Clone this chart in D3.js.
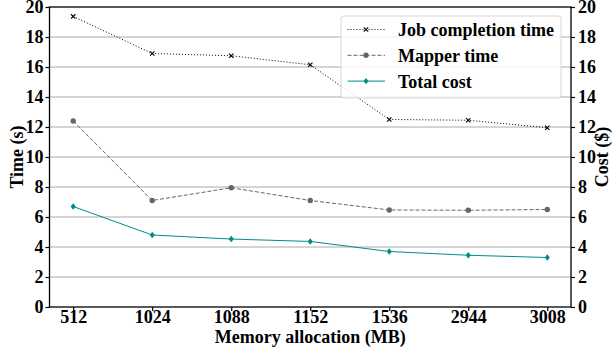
<!DOCTYPE html>
<html>
<head>
<meta charset="utf-8">
<script src="https://cdn.jsdelivr.net/npm/d3@7"></script>
<style>
  html, body { margin: 0; padding: 0; background: #fff; }
  svg { display: block; }
  text { font-family: "Liberation Serif", "Times New Roman", serif; font-weight: bold; }
</style>
</head>
<body>
<svg id="chart" width="612" height="349"></svg>
<script>
// Memory allocation settings (MB)
const categories = ["512", "1024", "1088", "1152", "1536", "2944", "3008"];
// Job completion time (s)
const jobTime = [19.37, 16.9, 16.75, 16.15, 12.5, 12.45, 11.95];
// Mapper time (s)
const mapperTime = [12.4, 7.1, 7.95, 7.1, 6.47, 6.45, 6.5];
// Total cost ($)
const totalCost = [6.7, 4.8, 4.53, 4.37, 3.7, 3.45, 3.3];
// Tick values shared by both vertical axes
const yTicks = [0, 2, 4, 6, 8, 10, 12, 14, 16, 18, 20];

const svg = d3.select("#chart");
const margin = { left: 49.5, right: 41, top: 7, bottom: 42 };
const W = 612, H = 349;
const x0 = margin.left, x1 = W - margin.right;
const y0 = H - margin.bottom, y1 = margin.top;

// Categorical positions with 5% margins on both ends
const xIdx = d3.scaleLinear().domain([-0.3, categories.length - 1 + 0.3]).range([x0, x1]);
const xPos = i => xIdx(i);
const yLeft = d3.scaleLinear().domain([0, 20]).range([y0, y1]);
const yRight = d3.scaleLinear().domain([0, 20]).range([y0, y1]);

// Horizontal grid
svg.append("g")
  .selectAll("line")
  .data(yTicks.slice(1, -1))
  .join("line")
  .attr("x1", x0).attr("x2", x1)
  .attr("y1", d => yLeft(d)).attr("y2", d => yLeft(d))
  .attr("stroke", "#aaaaaa").attr("stroke-width", 1);

// Series
const series = [
  { name: "Job completion time", values: jobTime, scale: yLeft, color: "#000", dash: "1,2", marker: "x" },
  { name: "Mapper time", values: mapperTime, scale: yLeft, color: "#666", dash: "4,2", marker: "circle" },
  { name: "Total cost", values: totalCost, scale: yRight, color: "#008b8b", dash: null, marker: "diamond" }
];

function drawMarker(g, type, cx, cy, color) {
  if (type === "x") {
    const s = 2.2;
    g.append("path")
      .attr("d", `M${cx - s},${cy - s}L${cx + s},${cy + s}M${cx - s},${cy + s}L${cx + s},${cy - s}`)
      .attr("stroke", color).attr("stroke-width", 1.1).attr("fill", "none");
  } else if (type === "circle") {
    g.append("circle").attr("cx", cx).attr("cy", cy).attr("r", 2.7).attr("fill", color);
  } else {
    const s = 3.2;
    g.append("path")
      .attr("d", `M${cx},${cy - s}L${cx + s * 0.8},${cy}L${cx},${cy + s}L${cx - s * 0.8},${cy}Z`)
      .attr("fill", color);
  }
}

series.forEach(s => {
  const g = svg.append("g");
  const line = d3.line().x((d, i) => xPos(i)).y(d => s.scale(d));
  g.append("path")
    .datum(s.values)
    .attr("d", line)
    .attr("fill", "none")
    .attr("stroke", s.color)
    .attr("stroke-width", 1)
    .attr("stroke-dasharray", s.dash);
  s.values.forEach((v, i) => drawMarker(g, s.marker, xPos(i), s.scale(v), s.color));
});

// Frame
svg.append("rect")
  .attr("x", x0).attr("y", y1)
  .attr("width", x1 - x0).attr("height", y0 - y1)
  .attr("fill", "none").attr("stroke", "#000").attr("stroke-width", 1.3);

// Axes
const fs = 18;
const leftAxis = d3.axisLeft(yLeft).tickValues(yTicks).tickFormat(d3.format("d")).tickSize(4).tickPadding(2);
const rightAxis = d3.axisRight(yRight).tickValues(yTicks).tickFormat(d3.format("d")).tickSize(4).tickPadding(3);
const bottomAxis = d3.axisBottom(d3.scaleLinear().domain(xIdx.domain()).range(xIdx.range()))
  .tickValues(d3.range(categories.length)).tickFormat(i => categories[i]).tickSize(4).tickPadding(-1);

function styleAxis(g) {
  g.select(".domain").remove();
  g.selectAll(".tick line").attr("stroke", "#000").attr("stroke-width", 1.2);
  g.selectAll(".tick text").attr("fill", "#000").style("font-size", fs + "px")
    .style("font-family", '"Liberation Serif", serif').style("font-weight", "bold");
}

svg.append("g").attr("transform", `translate(${x0},0)`).call(leftAxis).call(styleAxis);
svg.append("g").attr("transform", `translate(${x1},0)`).call(rightAxis).call(styleAxis);
svg.append("g").attr("transform", `translate(0,${y0})`).call(bottomAxis).call(styleAxis);

// Axis titles
svg.append("text")
  .attr("transform", `translate(23,${(y0 + y1) / 2}) rotate(-90)`)
  .attr("text-anchor", "middle").style("font-size", fs + "px").text("Time (s)");
svg.append("text")
  .attr("transform", `translate(608,${(y0 + y1) / 2}) rotate(-90)`)
  .attr("text-anchor", "middle").style("font-size", fs + "px").text("Cost ($)");
svg.append("text")
  .attr("x", (x0 + x1) / 2).attr("y", 342.5)
  .attr("text-anchor", "middle").style("font-size", fs + "px").text("Memory allocation (MB)");

// Legend
const lg = svg.append("g").attr("transform", "translate(341,16)");
lg.append("rect")
  .attr("width", 220).attr("height", 82).attr("rx", 3)
  .attr("fill", "#fff").attr("fill-opacity", 0.8)
  .attr("stroke", "#d6d6d6").attr("stroke-width", 1);
series.forEach((s, i) => {
  const cy = 13.5 + i * 25.8;
  lg.append("line")
    .attr("x1", 6.5).attr("x2", 44).attr("y1", cy).attr("y2", cy)
    .attr("stroke", s.color).attr("stroke-width", 1).attr("stroke-dasharray", s.dash);
  drawMarker(lg, s.marker, 25, cy, s.color);
  lg.append("text")
    .attr("x", 57).attr("y", cy + 6.5)
    .style("font-size", fs + "px").text(s.name);
});
</script>
</body>
</html>
